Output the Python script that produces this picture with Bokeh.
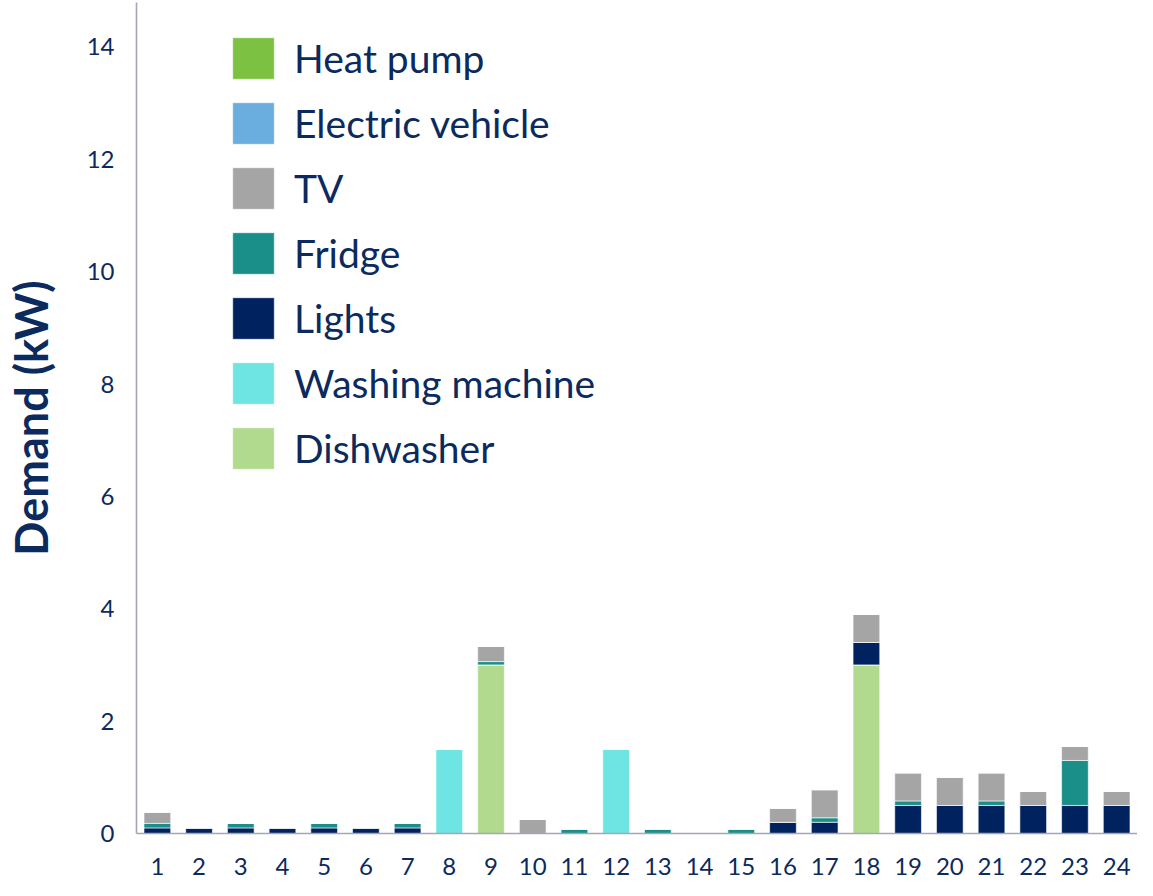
from bokeh.plotting import figure
from bokeh.models import Legend, LegendItem, ColumnDataSource, FixedTicker, Range1d, FactorRange
from bokeh.embed import file_html
from bokeh.resources import INLINE

hours = [str(h) for h in range(1, 25)]

dishwasher =      [0, 0, 0, 0, 0, 0, 0, 0, 3.0, 0, 0, 0, 0, 0, 0, 0, 0, 3.0, 0, 0, 0, 0, 0, 0]
washing_machine = [0, 0, 0, 0, 0, 0, 0, 1.5, 0, 0, 0, 1.5, 0, 0, 0, 0, 0, 0, 0, 0, 0, 0, 0, 0]
lights =          [0.1, 0.1, 0.1, 0.1, 0.1, 0.1, 0.1, 0, 0, 0, 0, 0, 0, 0, 0, 0.2, 0.2, 0.4, 0.5, 0.5, 0.5, 0.5, 0.5, 0.5]
fridge =          [0.08, 0, 0.08, 0, 0.08, 0, 0.08, 0, 0.06, 0, 0.08, 0, 0.08, 0, 0.08, 0, 0.08, 0, 0.08, 0, 0.08, 0, 0.8, 0]
tv =              [0.2, 0, 0, 0, 0, 0, 0, 0, 0.27, 0.25, 0, 0, 0, 0, 0, 0.25, 0.5, 0.5, 0.5, 0.5, 0.5, 0.25, 0.25, 0.25]
electric_vehicle = [0] * 24
heat_pump =        [0] * 24

series = ["Dishwasher", "Washing machine", "Lights", "Fridge", "TV", "Electric vehicle", "Heat pump"]
colors = ["#B1DA8F", "#6EE5E2", "#00235F", "#1A8F8A", "#A5A5A5", "#6AADDF", "#7DC142"]
y_ticks = [0, 2, 4, 6, 8, 10, 12, 14]

data = {"hour": hours, "Dishwasher": dishwasher, "Washing machine": washing_machine,
        "Lights": lights, "Fridge": fridge, "TV": tv,
        "Electric vehicle": electric_vehicle, "Heat pump": heat_pump}
source = ColumnDataSource(data)

navy = "#0B2A5E"
p = figure(x_range=FactorRange(*hours, range_padding=0), y_range=Range1d(0, 14.79),
           width=1137, height=880, output_backend="svg", toolbar_location=None,
           min_border_left=124, min_border_right=0, min_border_top=2, min_border_bottom=47)

renderers = p.vbar_stack(series, x="hour", width=0.64, source=source, color=colors,
                         line_color="white", line_width=0.6)

p.outline_line_color = None
p.grid.grid_line_color = None
p.background_fill_color = "white"
p.border_fill_color = "white"

for ax in (p.xaxis[0], p.yaxis[0]):
    ax.axis_line_color = "#A3A6B8"
    ax.axis_line_width = 1.6
    ax.major_tick_line_color = None
    ax.minor_tick_line_color = None
    ax.major_label_text_color = navy
    ax.major_label_text_font = "Lato"
    ax.major_label_text_font_size = "24px"

p.xaxis.major_label_standoff = 18
p.yaxis.ticker = FixedTicker(ticks=y_ticks)
p.yaxis.major_label_standoff = 16
p.yaxis.axis_label = "Demand (kW)"
p.yaxis.axis_label_text_font = "Lato"
p.yaxis.axis_label_text_font_style = "bold"
p.yaxis.axis_label_text_font_size = "45px"
p.yaxis.axis_label_text_color = navy
p.yaxis.axis_label_standoff = 26

items = [LegendItem(label=name, renderers=[r]) for name, r in zip(series, renderers)]
items = items[::-1]
legend = Legend(items=items, location=(91, 359), orientation="vertical",
                glyph_width=52, glyph_height=52, label_height=52,
                label_text_font="Lato", label_text_font_size="39px", label_text_color=navy,
                label_standoff=15, spacing=13, padding=0, margin=0,
                border_line_color=None, background_fill_alpha=0)
p.add_layout(legend, "center")

open("out.html", "w").write(file_html(p, INLINE))
